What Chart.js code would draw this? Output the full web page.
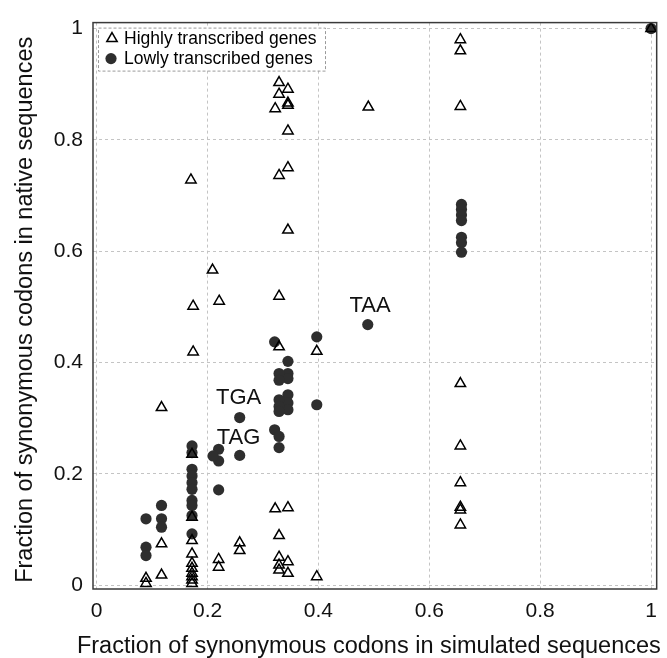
<!DOCTYPE html>
<html><head><meta charset="utf-8">
<script src="https://cdn.jsdelivr.net/npm/chart.js@4"></script>
<style>html,body{margin:0;padding:0;background:#fff}#c{display:block}</style>
</head><body>
<canvas id="c" width="667" height="658"></canvas>
<script>
const seriesNames = ['Highly transcribed genes', 'Lowly transcribed genes'];

const highX = [1.0,
  0.656,0.656,0.656,0.656,0.656,0.656,0.656,0.656,0.656,
  0.49,
  0.329,0.329,0.329,0.329,0.329,0.329,0.329,0.329,0.329,
  0.345,0.345,0.345,0.345,0.345,0.345,0.345,0.345,0.345,
  0.322,0.322,
  0.397,0.397,
  0.170,0.209,0.174,0.221,0.174,
  0.117,0.117,0.117,
  0.172,0.172,0.172,0.172,0.172,0.172,0.172,0.172,0.172,0.172,
  0.089,0.089,
  0.220,0.220,
  0.258,0.258];
const highY = [1.0,
  0.980,0.960,0.860,0.362,0.250,0.184,0.140,0.135,0.108,
  0.859,
  0.903,0.882,0.736,0.519,0.428,0.089,0.050,0.036,0.027,
  0.891,0.866,0.862,0.816,0.750,0.638,0.139,0.042,0.021,
  0.856,0.137,
  0.420,0.015,
  0.728,0.566,0.501,0.510,0.419,
  0.319,0.074,0.018,
  0.235,0.122,0.080,0.056,0.039,0.030,0.021,0.015,0.009,0.003,
  0.012,0.003,
  0.046,0.032,
  0.076,0.062];

const lowX = [1.0,
  0.658,0.658,0.658,0.658,0.658,0.658,0.658,
  0.489,
  0.397,0.397,
  0.321,0.321,
  0.345,0.345,0.345,0.345,0.345,0.345,
  0.329,0.329,0.329,0.329,0.329,0.329,0.329,
  0.258,0.258,
  0.220,0.220,0.220,
  0.210,
  0.172,0.172,0.172,0.172,0.172,0.172,0.172,0.172,0.172,0.172,
  0.117,0.117,0.117,
  0.089,0.089,0.089];
const lowY = [1.0,
  0.684,0.675,0.665,0.655,0.625,0.615,0.598,
  0.468,
  0.446,0.324,
  0.437,0.279,
  0.402,0.380,0.371,0.342,0.327,0.315,
  0.380,0.368,0.333,0.321,0.312,0.267,0.247,
  0.301,0.233,
  0.244,0.223,0.171,
  0.232,
  0.250,0.238,0.208,0.196,0.184,0.172,0.152,0.143,0.125,0.092,
  0.143,0.119,0.104,
  0.119,0.068,0.053];

const tickValues = [0, 0.2, 0.4, 0.6, 0.8, 1];
const xTickLabels = ['0', '0.2', '0.4', '0.6', '0.8', '1'];
const yTickLabels = ['0', '0.2', '0.4', '0.6', '0.8', '1'];
const xTitle = 'Fraction of synonymous codons in simulated sequences';
const yTitle = 'Fraction of synonymous codons in native sequences';
const noteLabels = ['TAA', 'TGA', 'TAG'];
const noteX = [0.493, 0.256, 0.256];
const noteY = [0.490, 0.325, 0.254];

const FONT = '"Liberation Sans", Arial, sans-serif';

function pts(xs, ys) { return xs.map((x, i) => ({x: x, y: ys[i]})); }

const decor = {
  id: 'decor',
  afterDraw(chart) {
    const ctx = chart.ctx, ca = chart.chartArea;
    const xs = chart.scales.x, ys = chart.scales.y;
    ctx.save();
    // frame
    ctx.strokeStyle = '#3a3a3a';
    ctx.lineWidth = 1.5;
    ctx.setLineDash([]);
    ctx.strokeRect(ca.left, ca.top, ca.right - ca.left, ca.bottom - ca.top);
    // annotations
    ctx.fillStyle = '#111';
    ctx.font = '22px ' + FONT;
    ctx.textAlign = 'center';
    ctx.textBaseline = 'alphabetic';
    noteLabels.forEach((t, i) => {
      ctx.fillText(t, xs.getPixelForValue(noteX[i]), ys.getPixelForValue(noteY[i]));
    });
    // axis titles
    ctx.font = '23.5px ' + FONT;
    ctx.fillText(xTitle, (ca.left + ca.right) / 2 - 6, 653);
    ctx.save();
    ctx.translate(32, (ca.top + ca.bottom) / 2 + 4);
    ctx.rotate(-Math.PI / 2);
    ctx.fillText(yTitle, 0, 0);
    ctx.restore();
    // legend
    const lx = ca.left + 5, ly = ca.top + 5, lw = 227, lh = 43;
    ctx.fillStyle = '#fff';
    ctx.fillRect(lx, ly, lw, lh);
    ctx.strokeStyle = '#9a9a9a';
    ctx.lineWidth = 1;
    ctx.setLineDash([3, 2]);
    ctx.strokeRect(lx + 0.5, ly + 0.5, lw, lh);
    ctx.setLineDash([]);
    // triangle marker
    const tcx = lx + 14, tcy = ly + 11, r = 6;
    ctx.beginPath();
    for (let k = 0; k < 3; k++) {
      const a = -Math.PI / 2 + k * 2 * Math.PI / 3;
      const px = tcx + Math.cos(a) * r, py = tcy + Math.sin(a) * r;
      if (k === 0) ctx.moveTo(px, py); else ctx.lineTo(px, py);
    }
    ctx.closePath();
    ctx.strokeStyle = '#000';
    ctx.lineWidth = 1.5;
    ctx.stroke();
    // circle marker
    ctx.beginPath();
    ctx.arc(lx + 13, ly + 31, 5.6, 0, Math.PI * 2);
    ctx.fillStyle = '#2e2e2e';
    ctx.fill();
    ctx.fillStyle = '#000';
    ctx.font = '17.5px ' + FONT;
    ctx.textAlign = 'left';
    ctx.fillText(chart.data.datasets[0].label, lx + 26, ly + 16);
    ctx.fillText(chart.data.datasets[1].label, lx + 26, ly + 36);
    ctx.restore();
  }
};

new Chart(document.getElementById('c'), {
  type: 'scatter',
  data: {
    datasets: [
      {
        label: seriesNames[0],
        data: pts(highX, highY),
        pointStyle: 'triangle',
        pointRadius: 6,
        pointBorderWidth: 1.5,
        borderColor: '#000',
        backgroundColor: 'rgba(0,0,0,0)'
      },
      {
        label: seriesNames[1],
        data: pts(lowX, lowY),
        pointStyle: 'circle',
        pointRadius: 5.6,
        pointBorderWidth: 0,
        borderColor: '#2e2e2e',
        backgroundColor: '#2e2e2e'
      }
    ]
  },
  options: {
    responsive: false,
    animation: false,
    devicePixelRatio: 1,
    layout: {padding: {left: 0, right: 2, top: 18, bottom: 0}},
    plugins: {legend: {display: false}, tooltip: {enabled: false}},
    scales: {
      x: {
        type: 'linear',
        min: -0.0066,
        max: 1.0101,
        afterBuildTicks: s => { s.ticks = tickValues.map(v => ({value: v})); },
        afterFit: s => { s.height = 69; },
        ticks: {
          callback: (v, i) => xTickLabels[i],
          font: {family: FONT, size: 21},
          color: '#111',
          padding: 10,
          maxRotation: 0,
          autoSkip: false
        },
        grid: {color: '#c4c4c4', lineWidth: 1, drawTicks: false},
        border: {display: false, dash: [3, 3]}
      },
      y: {
        type: 'linear',
        min: -0.0071,
        max: 1.0107,
        afterBuildTicks: s => { s.ticks = tickValues.map(v => ({value: v})); },
        afterFit: s => { s.width = 93; },
        ticks: {
          callback: (v, i) => yTickLabels[i],
          font: {family: FONT, size: 21},
          color: '#111',
          padding: 10,
          autoSkip: false
        },
        grid: {color: '#c4c4c4', lineWidth: 1, drawTicks: false},
        border: {display: false, dash: [3, 3]}
      }
    }
  },
  plugins: [decor]
});
</script>
</body></html>
